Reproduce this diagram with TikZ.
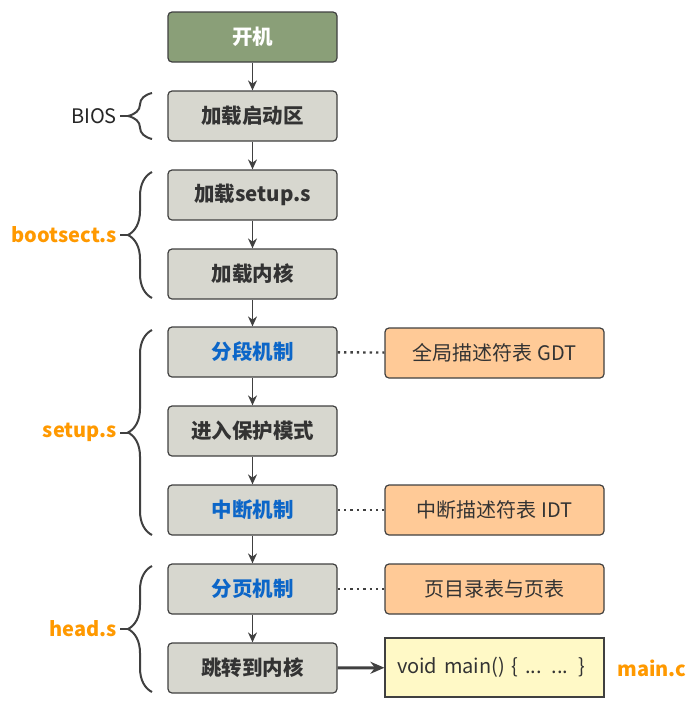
\documentclass[tikz,border=0pt]{standalone}
\usepackage{fontspec}
\setmainfont{Noto Sans CJK SC}
\usetikzlibrary{positioning, arrows.meta, decorations.pathreplacing}
\definecolor{bootgreen}{HTML}{8A9F78}
\definecolor{stepgray}{HTML}{D7D7CF}
\definecolor{tablefill}{HTML}{FFCA97}
\definecolor{codefill}{HTML}{FFF9C6}
\definecolor{fileorange}{HTML}{FF9900}
\definecolor{keyblue}{HTML}{0C66C8}
\definecolor{linegray}{HTML}{404040}

\begin{document}
\begin{tikzpicture}[x=1pt, y=-1pt,
  stage/.style={inner sep=5pt, draw=linegray, line width=1.2pt, rectangle, rounded corners=4pt, fill=stepgray, minimum width=169pt, minimum height=50pt, text=black!80, font=\fontsize{20.5}{20.5}\selectfont\bfseries},
  keystage/.style={stage, text=keyblue},
  table/.style={inner sep=5pt, draw=linegray, line width=1.2pt, rectangle, rounded corners=4pt, fill=tablefill, minimum width=219pt, minimum height=50pt, text=black!80, font=\fontsize{20}{20}\selectfont},
  file/.style={inner sep=3pt, anchor=east, text=fileorange, font=\fontsize{20}{20}\selectfont\bfseries},
  span/.style={draw=linegray, line width=2pt, decorate, decoration={brace, amplitude=24pt}},
  flow/.style={draw=linegray, line width=1.3pt, -{Stealth[length=10pt, width=9pt]}},
  refer/.style={draw=linegray, line width=2.4pt, dash pattern=on 2.4pt off 4pt}
]
\useasboundingbox (0,0) rectangle (698,710);

\node[stage, fill=bootgreen, text=white] at (252.5,37) (boot) {开机};
\node[stage] at (252.5,116) (loadboot) {加载启动区};
\node[stage] at (252.5,195) (loadsetup) {加载setup.s};
\node[stage] at (252.5,274) (loadkernel) {加载内核};
\node[keystage] at (252.5,352) (segment) {分段机制};
\node[stage] at (252.5,431) (protect) {进入保护模式};
\node[keystage] at (252.5,510) (interrupt) {中断机制};
\node[keystage] at (252.5,589) (paging) {分页机制};
\node[stage] at (252.5,668) (jump) {跳转到内核};

\draw [flow] (boot) -- (loadboot);
\draw [flow] (loadboot) -- (loadsetup);
\draw [flow] (loadsetup) -- (loadkernel);
\draw [flow] (loadkernel) -- (segment);
\draw [flow] (segment) -- (protect);
\draw [flow] (protect) -- (interrupt);
\draw [flow] (interrupt) -- (paging);
\draw [flow] (paging) -- (jump);

\node[table] at (494.5,353) (gdt) {全局描述符表 GDT};
\node[table] at (494.5,510) (idt) {中断描述符表 IDT};
\node[table] at (494.5,589) (pagetab) {页目录表与页表};
\node[table, rounded corners=0pt, fill=codefill, minimum height=59pt, text width=195pt, inner xsep=12pt, align=left] at (494.5,667.5) (code) {void main() \{ ... ... \}};

\draw [refer] (segment) -- (gdt);
\draw [refer] (interrupt) -- (idt);
\draw [refer] (paging) -- (pagetab);
\draw [draw=linegray, line width=3pt, -{Stealth[length=14pt, width=12pt]}] (jump) -- (code);

\node[file, anchor=center] at (652,668) (mainc) {main.c};

% braces on the left
\draw [span] (152,139) -- (152,93);
\draw [span] (152,298) -- (152,172);
\draw [span] (152,535) -- (152,330);
\draw [span] (152,692) -- (152,566);

\coordinate (biostip) at (128,116);
\coordinate (bootsecttip) at (128,235);
\coordinate (setuptip) at (128,432.5);
\coordinate (headtip) at (128,629);

\node[file, text=black!85, font=\fontsize{20}{20}\selectfont] at (120,116) (bios) {BIOS};
\node[file] at (120,235) (bootsect) {bootsect.s};
\node[file] at (120,432.5) (setup) {setup.s};
\node[file] at (120,629) (head) {head.s};

\draw [draw=linegray, line width=2pt] (bios) -- (biostip);
\draw [draw=linegray, line width=2pt] (bootsect) -- (bootsecttip);
\draw [draw=linegray, line width=2pt] (setup) -- (setuptip);
\draw [draw=linegray, line width=2pt] (head) -- (headtip);

\end{tikzpicture}
\end{document}
